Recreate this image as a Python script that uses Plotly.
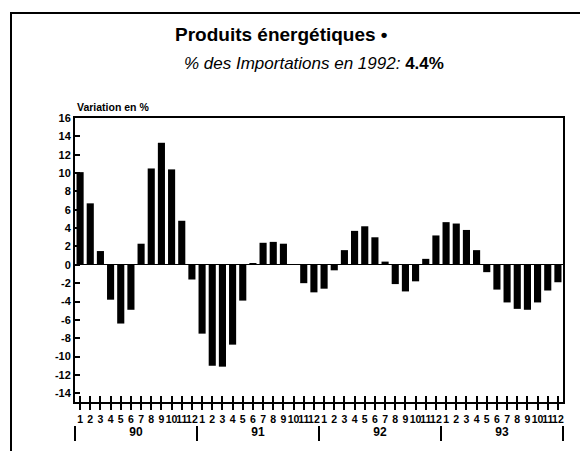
import plotly.graph_objects as go

# variation mensuelle en %, janv. 1990 -> déc. 1993
var_1990 = [10.1, 6.7, 1.5, -3.8, -6.4, -4.9, 2.3, 10.5, 13.3, 10.4, 4.8, -1.6]
var_1991 = [-7.5, -11.0, -11.1, -8.7, -3.9, 0.1, 2.4, 2.5, 2.3, 0.05, -2.0, -3.0]
var_1992 = [-2.6, -0.6, 1.6, 3.7, 4.2, 3.0, 0.35, -2.1, -2.9, -1.8, 0.65, 3.2]
var_1993 = [4.65, 4.5, 3.8, 1.6, -0.8, -2.7, -4.1, -4.8, -4.9, -4.1, -2.8, -1.9]

years = ["90", "91", "92", "93"]
months = [str(m) for m in range(1, 13)]
y_ticks = list(range(-14, 17, 2))

values = var_1990 + var_1991 + var_1992 + var_1993
idx = list(range(len(values)))
month_labels = months * len(years)

# centres et bornes des années sur l'axe (indices des mois)
year_centers = [12 * k + 5.5 for k in range(len(years))]
year_bounds = [12 * k - 0.5 for k in range(len(years) + 1)]

# la page a une marge de 8 px : on travaille en coordonnées de la page
OFF = 8
W, H = 588 - OFF, 451 - OFF
L, R, T, B = 75 - OFF, 25, 118 - OFF, 10
PH = H - T - B
AX_BOTTOM = 402


def px_x(x):
    return (x - OFF - L) / (W - L - R)


def px_y(y):
    return (H - B - (y - OFF)) / PH


FONT = "Liberation Sans"

fig = go.Figure()
fig.add_trace(go.Bar(x=idx, y=values, width=0.7, marker=dict(color="black", line=dict(width=0)),
                     showlegend=False))
# axes fantômes pour les ticks "+" et le bandeau des années
fig.add_trace(go.Scatter(x=[None], y=[None], xaxis="x2", yaxis="y", showlegend=False, hoverinfo="skip"))
fig.add_trace(go.Scatter(x=[None], y=[None], xaxis="x3", yaxis="y", showlegend=False, hoverinfo="skip"))

axis_font = dict(family=FONT, size=11, color="black", weight="bold")

fig.update_layout(
    width=W, height=H,
    margin=dict(l=L, r=R, t=T, b=B),
    paper_bgcolor="white", plot_bgcolor="white",
    bargap=0.3,
    xaxis=dict(
        range=[-0.5, 47.5], tickmode="array", tickvals=idx, ticktext=month_labels,
        tickangle=0, tickfont=dict(family=FONT, size=10.5, color="black", weight="bold"),
        ticks="outside", ticklen=6, tickwidth=1.5, tickcolor="black",
        showline=True, linecolor="black", linewidth=2, mirror=True, showgrid=False, zeroline=False,
        anchor="y",
    ),
    xaxis2=dict(
        range=[-0.5, 47.5], overlaying="x", anchor="y", side="bottom",
        tickmode="array", tickvals=idx, ticktext=[""] * len(idx),
        ticks="inside", ticklen=6, tickwidth=1.5, tickcolor="black",
        showline=False, showgrid=False, zeroline=False,
    ),
    xaxis3=dict(
        range=[-0.5, 47.5], overlaying="x", anchor="free", position=0, side="bottom",
        tickmode="array", tickvals=year_centers, ticktext=years, ticks="",
        ticklabelposition="inside", tickfont=dict(family=FONT, size=12, color="black", weight="bold"),
        minor=dict(tickmode="array", tickvals=year_bounds, ticks="inside", ticklen=15,
                   tickwidth=1.5, tickcolor="black"),
        showline=False, showgrid=False, zeroline=False,
    ),
    yaxis=dict(
        domain=[px_y(AX_BOTTOM), 1], range=[-14.95, 16],
        tickmode="array", tickvals=y_ticks, ticktext=[str(v) for v in y_ticks],
        tickfont=axis_font, ticks="inside", ticklen=5, tickwidth=1.5, tickcolor="black",
        showline=True, linecolor="black", linewidth=2, mirror=True, showgrid=False,
        zeroline=True, zerolinecolor="black", zerolinewidth=1,
    ),
    annotations=[
        dict(text="<b>Produits énergétiques •</b>", x=px_x(281), y=px_y(35), xref="paper", yref="paper",
             xanchor="center", yanchor="middle", showarrow=False,
             font=dict(family=FONT, size=19, color="black")),
        dict(text="<i>% des Importations en 1992:</i> <b>4.4%</b>", x=px_x(314), y=px_y(63),
             xref="paper", yref="paper", xanchor="center", yanchor="middle", showarrow=False,
             font=dict(family=FONT, size=17, color="black")),
        dict(text="<b>Variation en %</b>", x=px_x(75), y=px_y(107), xref="paper", yref="paper",
             xanchor="left", yanchor="middle", showarrow=False,
             font=dict(family=FONT, size=10.5, color="black")),
    ],
    shapes=[
        dict(type="rect", xref="paper", yref="paper", x0=px_x(11), x1=px_x(581), y0=px_y(470), y1=px_y(13),
             line=dict(color="black", width=2)),
    ],
)

fig.write_html("out.html")
